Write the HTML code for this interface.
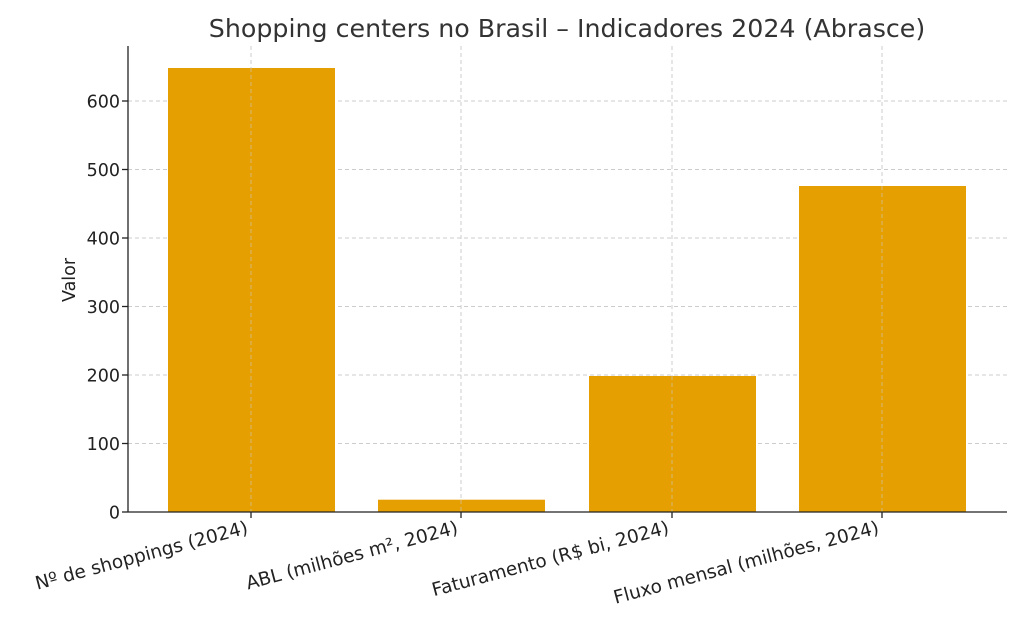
<!DOCTYPE html>
<html><head><meta charset="utf-8"><style>
html,body{margin:0;padding:0;background:#fff;}
svg{display:block;font-family:"DejaVu Sans","Liberation Sans",sans-serif;}
</style></head><body>
<svg width="1024" height="626" viewBox="0 0 1024 626" xmlns="http://www.w3.org/2000/svg">
<text x="567" y="37" font-size="25.3" fill="#333" text-anchor="middle">Shopping centers no Brasil – Indicadores 2024 (Abrasce)</text>
<g stroke="#ccc" stroke-width="1" stroke-dasharray="4,3">
<line x1="128" x2="1007" y1="101" y2="101"/>
<line x1="128" x2="1007" y1="169.5" y2="169.5"/>
<line x1="128" x2="1007" y1="238" y2="238"/>
<line x1="128" x2="1007" y1="306.5" y2="306.5"/>
<line x1="128" x2="1007" y1="375" y2="375"/>
<line x1="128" x2="1007" y1="443.5" y2="443.5"/>
<line x1="251" x2="251" y1="46" y2="512"/>
<line x1="461" x2="461" y1="46" y2="512"/>
<line x1="672" x2="672" y1="46" y2="512"/>
<line x1="882" x2="882" y1="46" y2="512"/>
</g>
<g fill="#E69F00">
<rect x="168" y="68" width="167" height="444"/>
<rect x="378" y="499.7" width="167" height="12.3"/>
<rect x="589" y="376" width="167" height="136"/>
<rect x="799" y="186" width="167" height="326"/>
</g>
<g stroke="#ccc" stroke-width="1" stroke-dasharray="4,3" opacity="0.6">
<line x1="251" x2="251" y1="68" y2="512"/>
<line x1="461" x2="461" y1="500" y2="512"/>
<line x1="672" x2="672" y1="376" y2="512"/>
<line x1="882" x2="882" y1="186" y2="512"/>
</g>
<g stroke="#222" stroke-width="1.3">
<line x1="128" x2="128" y1="46" y2="512"/>
<line x1="128" x2="1007" y1="512" y2="512"/>
<line x1="122" x2="128" y1="101" y2="101"/>
<line x1="122" x2="128" y1="169.5" y2="169.5"/>
<line x1="122" x2="128" y1="238" y2="238"/>
<line x1="122" x2="128" y1="306.5" y2="306.5"/>
<line x1="122" x2="128" y1="375" y2="375"/>
<line x1="122" x2="128" y1="443.5" y2="443.5"/>
<line x1="122" x2="128" y1="512" y2="512"/>
<line x1="251" x2="251" y1="512" y2="518"/>
<line x1="461" x2="461" y1="512" y2="518"/>
<line x1="672" x2="672" y1="512" y2="518"/>
<line x1="882" x2="882" y1="512" y2="518"/>
</g>
<g font-size="17.5" fill="#222" text-anchor="end">
<text x="120" y="107.5">600</text>
<text x="120" y="176">500</text>
<text x="120" y="244.5">400</text>
<text x="120" y="313">300</text>
<text x="120" y="381.5">200</text>
<text x="120" y="450">100</text>
<text x="120" y="518.5">0</text>
</g>
<text transform="translate(75,280) rotate(-90)" font-size="17.5" fill="#222" text-anchor="middle">Valor</text>
<g font-size="18.5" fill="#222" text-anchor="end">
<text x="249" y="533" transform="rotate(-15,249,533)">Nº de shoppings (2024)</text>
<text x="459" y="533" transform="rotate(-15,459,533)">ABL (milhões m², 2024)</text>
<text x="670" y="533" transform="rotate(-15,670,533)">Faturamento (R$ bi, 2024)</text>
<text x="880" y="533" transform="rotate(-15,880,533)">Fluxo mensal (milhões, 2024)</text>
</g>
</svg>
</body></html>
